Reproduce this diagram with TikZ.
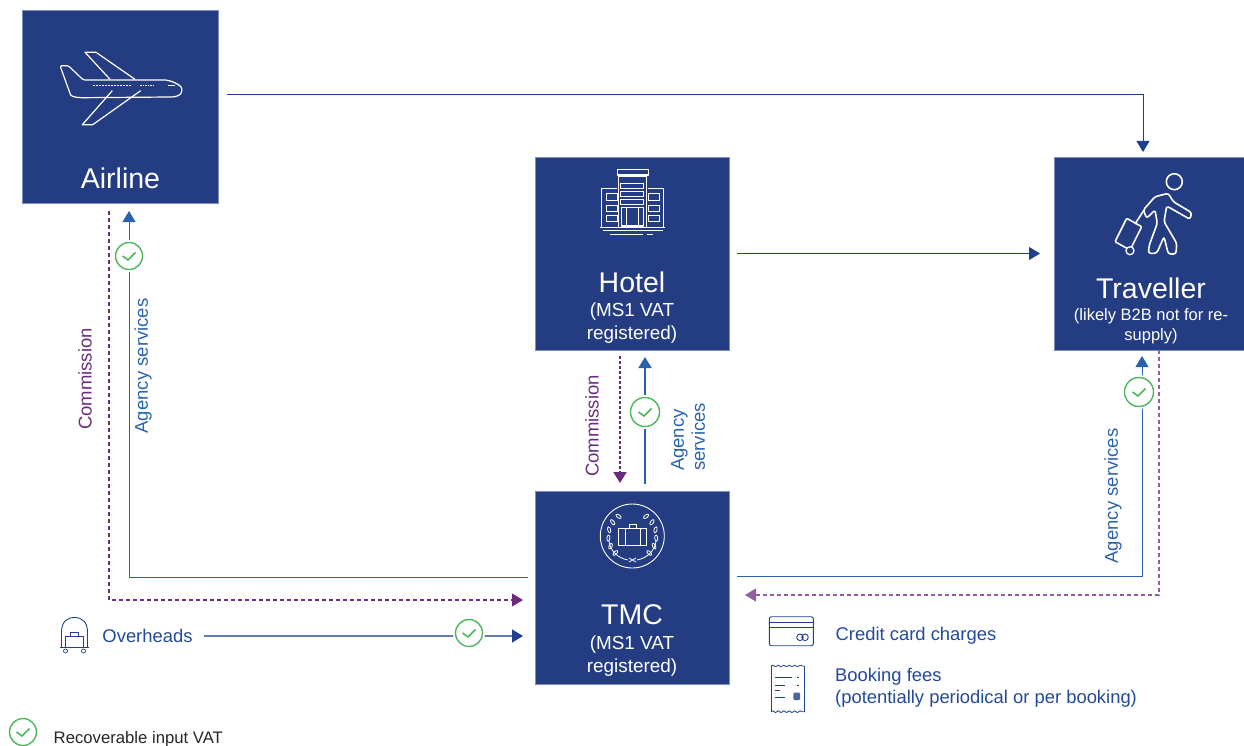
\documentclass[tikz,border=0pt]{standalone}
\usepackage{fontspec}
\setmainfont{Liberation Sans}
\usetikzlibrary{arrows.meta,decorations.pathmorphing}
\definecolor{boxblue}{HTML}{243C82}
\definecolor{boxedge}{HTML}{7F8FBD}
\definecolor{navyline}{HTML}{1F3F8F}
\definecolor{agencyblue}{HTML}{2A62AC}
\definecolor{commpurple}{HTML}{6B2C7E}
\definecolor{tickgreen}{HTML}{4CB85C}
\definecolor{labelblue}{HTML}{23499B}
\tikzset{
	bigbox/.style = {shape=rectangle, draw=boxedge, line width=0.6pt, fill=boxblue, minimum height=193pt, inner sep=0pt, outer sep=0pt},
	boxtitle/.style = {text=white, inner sep=0pt, font=\fontsize{28.5}{30}\selectfont},
	boxsub/.style = {text=white, inner sep=0pt, font=\fontsize{18.9}{22}\selectfont},
	travelsub/.style = {text=white, inner sep=0pt, font=\fontsize{16.5}{20}\selectfont},
	agencylabel/.style = {text=agencyblue, inner sep=0pt, align=left, font=\fontsize{18.5}{21}\selectfont},
	commlabel/.style = {text=commpurple, inner sep=0pt, font=\fontsize{18.5}{21}\selectfont},
	bluelabel/.style = {text=labelblue, inner sep=0pt, align=left, font=\fontsize{18.4}{22}\selectfont},
	navyflow/.style = {draw=navyline, line width=1pt, -{Triangle[width=13pt,length=11pt]}},
	agencyflow/.style = {draw=agencyblue, line width=1pt, -{Triangle[width=13pt,length=11pt]}},
	commflow/.style = {draw=commpurple, line width=1.1pt, dash pattern=on 4pt off 3pt, -{Triangle[width=13pt,length=11pt]}},
	tick/.style = {shape=circle, draw=tickgreen, line width=1.4pt, fill=white, minimum size=27pt, inner sep=0pt,
		preaction={draw=white, line width=5pt},
		path picture={\draw[tickgreen, line width=1.6pt] ([shift={(-6.5,0)}]path picture bounding box.center) -- ++(5.5,4) -- ++(7.5,-7.5);}},
	iconline/.style = {draw=white, line width=1.2pt, line join=round},
	iconthin/.style = {draw=white, line width=0.7pt},
	navyicon/.style = {draw=navyline, line width=0.9pt, line join=round},
}
\begin{document}
\begin{tikzpicture}[x=1pt, y=-1pt]
	\useasboundingbox (0,0) rectangle (1244,746);

	\node[bigbox, minimum width=196pt] (airline) at (120,106.5) {};
	\node[bigbox, minimum width=194pt] (hotel) at (632,253.5) {};
	\node[bigbox, minimum width=190pt] (traveller) at (1149,253.5) {};
	\node[bigbox, minimum width=194pt] (tmc) at (632,587.5) {};

	\node[boxtitle] (airline-title) at (120.5,178) {Airline};
	\node[boxtitle] (hotel-title) at (632,282) {Hotel};
	\node[boxsub] (hotel-sub-a) at (632,312) {(MS1 VAT};
	\node[boxsub] (hotel-sub-b) at (632,335) {registered)};
	\node[boxtitle] (traveller-title) at (1151,288) {Traveller};
	\node[travelsub] (traveller-sub-a) at (1151,316) {(likely B2B not for re-};
	\node[travelsub] (traveller-sub-b) at (1151,336) {supply)};
	\node[boxtitle] (tmc-title) at (632,615) {TMC};
	\node[boxsub] (tmc-sub-a) at (632,645) {(MS1 VAT};
	\node[boxsub] (tmc-sub-b) at (632,668) {registered)};

	\node[bluelabel] (overheads) at (147.5,636) {Overheads};
	\node[bluelabel, anchor=west] (card-text) at (835.5,636) {Credit card charges};
	\node[bluelabel, anchor=west] (fees-text) at (835,688) {Booking fees\\(potentially periodical or per booking)};
	\node[inner sep=0pt, anchor=west, text=black!85, font=\fontsize{16.7}{18}\selectfont] (legend-text) at (53.5,739) {Recoverable input VAT};

	\node[agencylabel, rotate=90] (air-agency) at (143,366) {Agency services};
	\node[commlabel, rotate=90] (air-comm) at (85,379) {Commission};
	\node[commlabel, rotate=90] (hotel-comm) at (592,426) {Commission};
	\node[agencylabel, rotate=90] (hotel-agency) at (688,437) {Agency\\services};
	\node[agencylabel, rotate=90] (trav-agency) at (1113,496) {Agency services};

	% flows between the boxes
	\draw[navyflow, shorten <=9pt, shorten >=5pt] ([yshift=11.5pt]airline.east) -| ([xshift=-6pt]traveller.north);
	\draw[navyflow, shorten <=8pt, shorten >=14pt] (hotel.east) -- (traveller.west);
	\draw[agencyflow, shorten <=7pt, shorten >=8pt] ([yshift=10.5pt]tmc.west) -| ([xshift=9pt]airline.south);
	\draw[commflow, shorten <=8pt, shorten >=12pt] ([xshift=-11pt]airline.south) |- ([yshift=-12.5pt]tmc.west);
	\draw[commflow, line width=2pt, dash pattern=on 3pt off 2pt, shorten <=6pt, shorten >=8pt] ([xshift=-12pt]hotel.south) -- ([xshift=-12pt]tmc.north);
	\draw[agencyflow, line width=1.8pt, shorten <=7pt, shorten >=7pt] ([xshift=13pt]tmc.north) -- ([xshift=13pt]hotel.south);
	\draw[agencyflow, shorten <=8pt, shorten >=6pt] ([yshift=11pt]tmc.east) -| ([xshift=-7pt]traveller.south);
	\draw[commflow, draw=commpurple!75, shorten >=16pt] ([xshift=10pt]traveller.south) |- ([yshift=-7.5pt]tmc.east);
	\draw[draw=navyline!70, line width=1.4pt, -{Triangle[width=13pt,length=11pt,color=navyline]}, shorten <=11pt, shorten >=12pt] (overheads.east) -- (overheads.east -| tmc.west);

	\node[tick] (tick-air) at (129,256) {};
	\node[tick, minimum size=29pt] (tick-hotel) at (645,412) {};
	\node[tick, minimum size=29pt] (tick-trav) at (1139,392) {};
	\node[tick] (tick-over) at (469,633) {};
	\node[tick] (tick-legend) at (23,732) {};

	% airline icon
	\draw[iconline, rounded corners=1.5pt] (60,65.7) -- (68.3,65.7) -- (83.3,80) -- (163.3,80) .. controls (170,80) and (181.7,85) .. (181.7,90) .. controls (181.7,95) and (176,97) .. (170,97) -- (83.3,97.7) .. controls (75,97.7) and (71,96) .. (70,93.3) -- cycle;
	\draw[iconline] (110,79.3) -- (85,52.3) -- (96,52.3) -- (135,79.3);
	\draw[iconline] (112.3,90.7) -- (82.3,124.7) -- (92.7,124.7) -- (140.7,90.7);
	\draw[iconthin, dash pattern=on 1.5pt off 1.5pt] (93.3,85) -- (131.7,85);
	\draw[iconthin, dash pattern=on 1.5pt off 1pt] (140,85) -- (153.3,85);
	\draw[iconthin] (168,85) -- (175,85);

	% hotel icon
	\draw[iconline] (617.3,169.3) rectangle (648.3,175);
	\draw[iconline] (618.3,176.7) rectangle (646.7,227.3);
	\foreach \wy in {183.3,191.3,199.3} {
		\draw[iconthin, line width=1pt] (620.5,\wy) rectangle (643.3,\wy+5.5);
	}
	\draw[iconline] (621.7,207.3) rectangle (643.3,226);
	\draw[iconthin, line width=1pt] (626.7,207.3) -- (626.7,226) (638.3,207.3) -- (638.3,226);
	\draw[iconline] (617.3,188.3) -- (601.7,188.3) -- (601.7,227.3);
	\draw[iconline] (648.3,188.3) -- (663.3,188.3) -- (663.3,227.3);
	\foreach \wy in {194,205,215} {
		\draw[iconthin, line width=1pt] (606,\wy) rectangle (617.3,\wy+6.7);
		\draw[iconthin, line width=1pt] (648.3,\wy) rectangle (659,\wy+6.7);
	}
	\draw[iconline] (600,227.3) -- (665,227.3);
	\draw[iconline, line width=1.8pt] (603.3,230.5) -- (662.7,230.5);
	\draw[iconline, line width=1.8pt] (610,234.5) -- (643.3,234.5) (646.7,234.5) -- (653.3,234.5);

	% traveller icon
	\draw[iconline, line width=1.6pt] (1174.3,181.7) circle (8);
	\draw[iconline, line width=1.6pt, rounded corners=2.5pt] (1155,196.7) -- (1168.3,193.3) -- (1173.3,201.7) -- (1191.7,212.7) -- (1190,219.3) -- (1166.7,206) -- (1164,221.7) -- (1176.7,243.3) -- (1176,254) -- (1168.3,254) -- (1164,236.7) -- (1156.7,253.3) -- (1148.3,253.3) -- (1149.3,245) -- (1157.3,223.3) -- (1155,210) -- (1146.7,218.3) -- (1143.3,210) -- cycle;
	\draw[iconline, line width=1.6pt, rounded corners=1pt] (1126.7,218.3) -- (1115,241.7) -- (1130,250) -- (1141.7,226.7) -- cycle;
	\draw[iconline, line width=1.6pt] (1135,224) -- (1144,210);
	\draw[iconline, line width=1.3pt, fill=boxblue] (1130,250.7) circle (4);

	% tmc icon
	\draw[iconthin, line width=0.9pt] (632.3,536) circle (32);
	\draw[iconline] (618.3,528.3) rectangle (646.7,545.7);
	\draw[iconthin, line width=1pt] (625,528.3) -- (625,545.7) (640,528.3) -- (640,545.7);
	\draw[iconthin, line width=1pt] (629,528.3) -- (629,524) -- (636.7,524) -- (636.7,528.3);
	\foreach \leaf in {135,155,175,195,215,235,-55,-35,-15,5,25,45} {
		\draw[iconthin, line width=0.8pt, shift={(632.3,536)}] (\leaf:24) circle[x radius=1.5, y radius=3, rotate=\leaf];
	}
	\draw[iconthin, line width=0.8pt] (637,560) .. controls (648,558) and (655,550) .. (656,541) (628,560) .. controls (617,558) and (610,550) .. (609,541);
	\draw[iconthin, line width=0.8pt] (629,562) -- (636,558) (636,562) -- (629,558);

	% overheads icon
	\draw[navyicon] (61.5,647.5) -- (61.5,632) .. controls (61.5,622) and (67,617.5) .. (74.5,617.5) .. controls (82,617.5) and (87.5,622) .. (87.5,632) -- (87.5,647.5);
	\draw[navyicon] (60,647.5) -- (89,647.5);
	\draw[navyicon] (65.4,636) rectangle (83.6,647.5);
	\draw[navyicon, line width=0.7pt] (70.5,636) -- (70.5,632.7) -- (78.5,632.7) -- (78.5,636);
	\draw[navyicon, line width=0.7pt] (65.5,651) circle (2) (83.5,651) circle (2);

	% credit card icon
	\draw[navyicon, rounded corners=2pt] (769.3,616.7) rectangle (813.3,645.7);
	\draw[navyicon, line width=0.7pt] (769.3,622.3) -- (813.3,622.3) (769.3,627.3) -- (813.3,627.3);
	\draw[navyicon] (800,637.3) circle (3.3) (805,637.3) circle (3.3);

	% receipt icon
	\draw[navyicon, line width=0.8pt] (771,666) -- (771,711.7) (804.3,666) -- (804.3,711.7);
	\draw[navyicon, line width=0.8pt, decorate, decoration={snake, segment length=5.5pt, amplitude=0.9pt}] (771,666) -- (804.3,666);
	\draw[navyicon, line width=0.8pt, decorate, decoration={snake, segment length=5.5pt, amplitude=0.9pt}] (771,711.7) -- (804.3,711.7);
	\draw[navyicon, line width=0.7pt] (775,677.7) -- (792.3,677.7) (796.5,677.7) -- (798.5,677.7) (775,685) -- (785,685) (796.5,685) -- (798.5,685) (775,697) -- (785,697);
	\draw[navyicon, line width=1.4pt] (775,690.7) -- (780,690.7);
	\fill[navyline!80, rounded corners=1pt] (793.3,692.7) rectangle (800,700);
\end{tikzpicture}
\end{document}
